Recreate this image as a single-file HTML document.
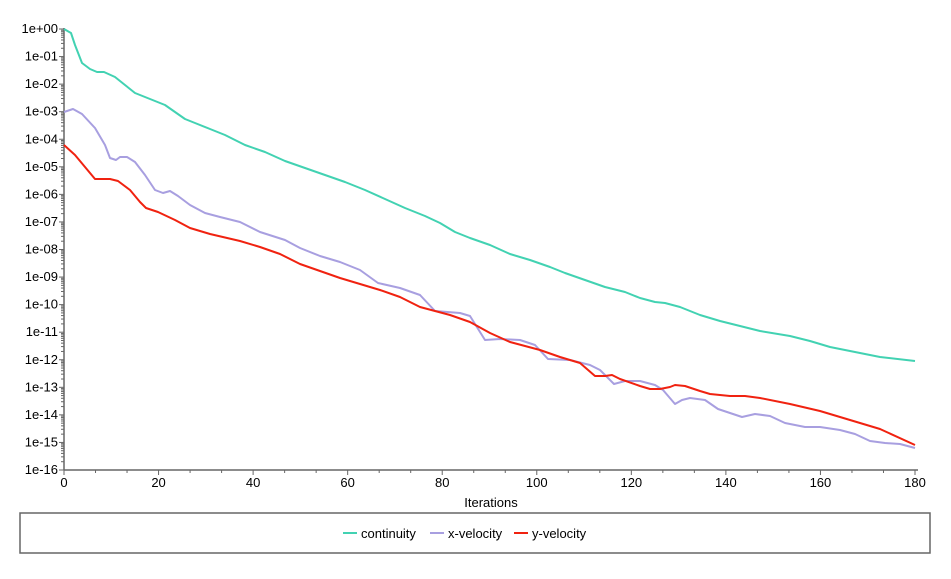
<!DOCTYPE html>
<html><head><meta charset="utf-8"><style>
body{margin:0;background:#fff;width:951px;height:574px;overflow:hidden;font-family:"Liberation Sans",sans-serif}
</style></head><body>
<svg width="951" height="574" xmlns="http://www.w3.org/2000/svg" font-family="Liberation Sans, sans-serif" font-size="13" fill="#000">
<g id="ax" stroke="#666" stroke-width="1.5" fill="none">
<line x1="64" y1="28" x2="64" y2="470"/>
<line x1="64" y1="470" x2="918" y2="470"/>
</g>
<g id="yt" stroke="#666" stroke-width="1"></g>
<g id="xt" stroke="#666" stroke-width="1"></g>
<g id="lab" text-anchor="end"></g>
<g id="xl" text-anchor="middle"></g>
<text x="491" y="507" text-anchor="middle">Iterations</text>
<g fill="none" stroke-width="2" stroke-linejoin="round">
<polyline stroke="#42d2b2" points="64,29 71,33 75,45 82,63 90,69 97,72 104,72 115,77 125,85 135,93 150,99 165,105 175,112 185,119 195,123 210,129 225,135 245,145 265,152 285,161 305,168 325,175 345,182 365,190 385,199 405,208 425,216 440,223 455,232 470,238 490,245 510,254 530,260 550,267 565,273 585,280 605,287 625,292 640,298 655,302 665,303 680,307 700,315 720,321 740,326 760,331 790,336 810,341 830,347 850,351 880,357 915,361"/>
<polyline stroke="#a89fe0" points="64,112 73,109 82,114 95,128 105,145 110,158 116,160 120,157 127,157 135,162 145,175 155,190 163,193 170,191 178,196 190,205 205,213 220,217 240,222 260,232 285,240 300,248 320,256 340,262 360,270 378,283 400,288 420,295 435,311 460,313 470,316 485,340 500,339 520,340 535,345 548,359 570,360 590,365 600,370 614,384 625,381 640,381 655,385 663,390 675,404 682,400 690,398 705,400 718,409 742,417 755,414 770,416 785,423 805,427 820,427 840,430 855,434 870,441 885,443 900,444 915,448"/>
<polyline stroke="#f02210" points="64,145 75,155 85,167 95,179 110,179 118,181 130,190 140,202 146,208 158,212 175,220 190,228 210,234 240,241 260,247 280,254 300,264 320,271 340,278 360,284 380,290 400,297 420,307 435,311 450,315 470,322 490,333 510,342 540,350 560,357 580,363 595,376 605,376 612,375 620,379 640,386 650,389 660,389 670,387 675,385 685,386 700,391 710,394 730,396 745,396 760,398 790,404 820,411 850,420 880,429 915,445"/>
</g>
<rect x="20" y="513" width="910" height="40" fill="none" stroke="#666" stroke-width="1.5"/>
<line x1="343" y1="533" x2="357" y2="533" stroke="#42d2b2" stroke-width="2"/>
<text x="361" y="538">continuity</text>
<line x1="430" y1="533" x2="444" y2="533" stroke="#a89fe0" stroke-width="2"/>
<text x="448" y="538">x-velocity</text>
<line x1="514" y1="533" x2="528" y2="533" stroke="#f02210" stroke-width="2"/>
<text x="532" y="538">y-velocity</text>
</svg>
<script>
var ns="http://www.w3.org/2000/svg";
function el(p,t,a,txt){var e=document.createElementNS(ns,t);for(var k in a)e.setAttribute(k,a[k]);if(txt!=null)e.textContent=txt;document.getElementById(p).appendChild(e);}
var y0=29,dy=(470-29)/16;
for(var d=0;d<=16;d++){var y=y0+d*dy;
 el("yt","line",{x1:59,y1:y,x2:64,y2:y});
 var s=d==0?"1e+00":"1e-"+(d<10?"0"+d:d);
 el("lab","text",{x:58,y:y+4},s);
 if(d<16)for(var m=2;m<=9;m++){var yy=y+dy-Math.log10(m)*dy;el("yt","line",{x1:61,y1:yy,x2:64,y2:yy});}
}
var x0=64,dx=(915-64)/180;
for(var i=0;i<=180;i+=20/3){var x=x0+i*dx;var maj=Math.abs(i-Math.round(i/20)*20)<0.01;
 el("xt","line",{x1:x,y1:470,x2:x,y2:maj?475:473});
 if(maj)el("xl","text",{x:x,y:487},String(Math.round(i)));}
</script>
</body></html>
